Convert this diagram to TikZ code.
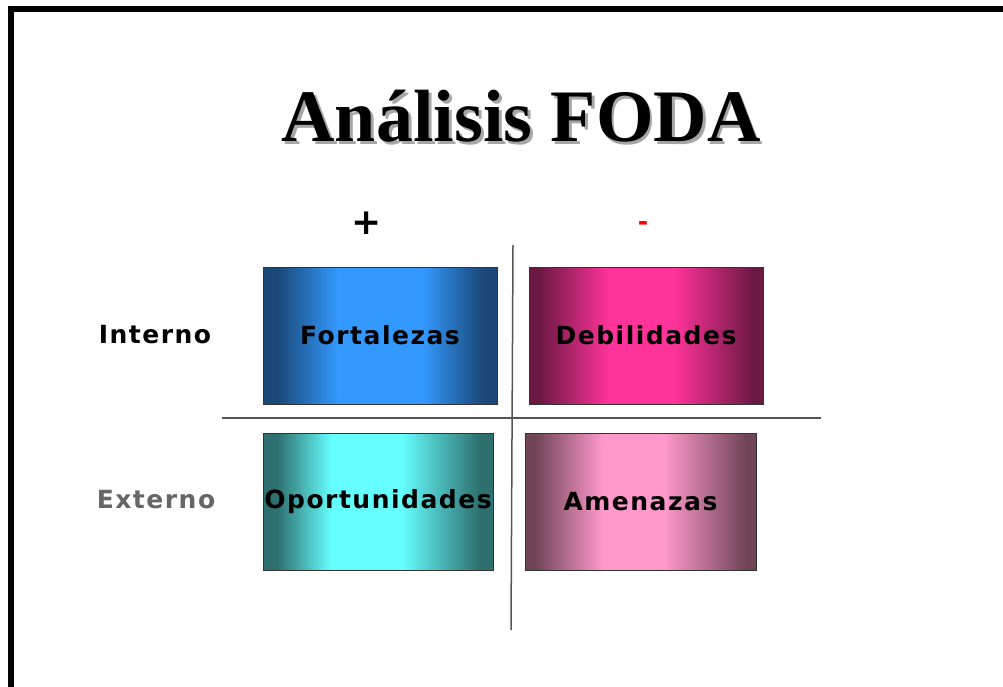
\documentclass[tikz,border=0pt]{standalone}
\usepackage{fontspec}
\newfontfamily\titlefont{Liberation Serif}
\newfontfamily\lblfont[LetterSpace=6]{DejaVu Sans}
\usetikzlibrary{calc}

\definecolor{fortdark}{HTML}{1A4878}
\definecolor{fortlight}{HTML}{3399FF}
\definecolor{debildark}{HTML}{6B1843}
\definecolor{debillight}{HTML}{FF3399}
\definecolor{oportdark}{HTML}{2E706F}
\definecolor{oportlight}{HTML}{66FFFF}
\definecolor{amendark}{HTML}{6E4456}
\definecolor{amenlight}{HTML}{FF99CC}
\definecolor{cruz}{HTML}{555555}
\definecolor{externogris}{HTML}{666666}

% the box edges sit at 25bp and 75bp of each shading
\pgfdeclarehorizontalshading{fortshade}{100bp}{color(0bp)=(fortdark); color(28bp)=(fortdark); color(41bp)=(fortlight); color(59bp)=(fortlight); color(72bp)=(fortdark); color(100bp)=(fortdark)}
\pgfdeclarehorizontalshading{debilshade}{100bp}{color(0bp)=(debildark); color(27bp)=(debildark); color(42bp)=(debillight); color(56bp)=(debillight); color(73bp)=(debildark); color(100bp)=(debildark)}
\pgfdeclarehorizontalshading{oportshade}{100bp}{color(0bp)=(oportdark); color(28bp)=(oportdark); color(40bp)=(oportlight); color(55bp)=(oportlight); color(72bp)=(oportdark); color(100bp)=(oportdark)}
\pgfdeclarehorizontalshading{amenshade}{100bp}{color(0bp)=(amendark); color(27bp)=(amendark); color(42bp)=(amenlight); color(55bp)=(amenlight); color(73bp)=(amendark); color(100bp)=(amendark)}

\newcommand{\consombra}[1]{\makebox[0pt][l]{\hspace{3pt}\raisebox{-3pt}{\textcolor{gray!70}{#1}}}#1}

\tikzset{
  cuadro/.style={draw=black!80, line width=1pt, inner sep=0pt, minimum width=234pt, minimum height=137pt, font=\lblfont\bfseries\fontsize{25}{28}\selectfont},
  etiqueta/.style={inner sep=0pt, anchor=base, font=\lblfont\bfseries\fontsize{25}{28}\selectfont},
  eje/.style={draw=cruz, line width=1.5pt}
}

\begin{document}
\begin{tikzpicture}[x=1pt,y=-1pt]
        \useasboundingbox (0,0) rectangle (1003,687);
        \fill[white] (0,0) rectangle (1003,687);
        \draw[line width=5.5pt] (11,690) -- (11,9) -- (1006,9);

        \node[anchor=base, inner sep=0pt, font=\titlefont\bfseries\fontsize{74}{80}\selectfont] (titulo) at (521,142) {\consombra{Análisis FODA}};

        \node[etiqueta, font=\lblfont\bfseries\fontsize{36}{40}\selectfont] (mas) at (367,234) {+};
        \node[etiqueta, text=red] (menos) at (643,230) {-};
        \node[etiqueta] (interno) at (155,343) {Interno};
        \node[etiqueta, text=externogris] (externo) at (156,508) {Externo};

        \coordinate (vtop) at (513,245);
        \coordinate (vbot) at (511,630);
        \coordinate (hizq) at (222,418);
        \coordinate (hder) at (821,418);
        \draw[eje] (vtop) -- (vbot);
        \draw[eje] (hizq) -- (hder);

        \node[cuadro, shading=fortshade] (fort) at (380,335.5) {Fortalezas};
        \node[cuadro, shading=debilshade] (debil) at (646,335.5) {Debilidades};
        \node[cuadro, shading=oportshade, minimum width=230pt] (oport) at (378,502) {Oportunidades};
        \node[cuadro, shading=amenshade, minimum width=231pt] (amen) at (640.5,502) {Amenazas};
\end{tikzpicture}
\end{document}
